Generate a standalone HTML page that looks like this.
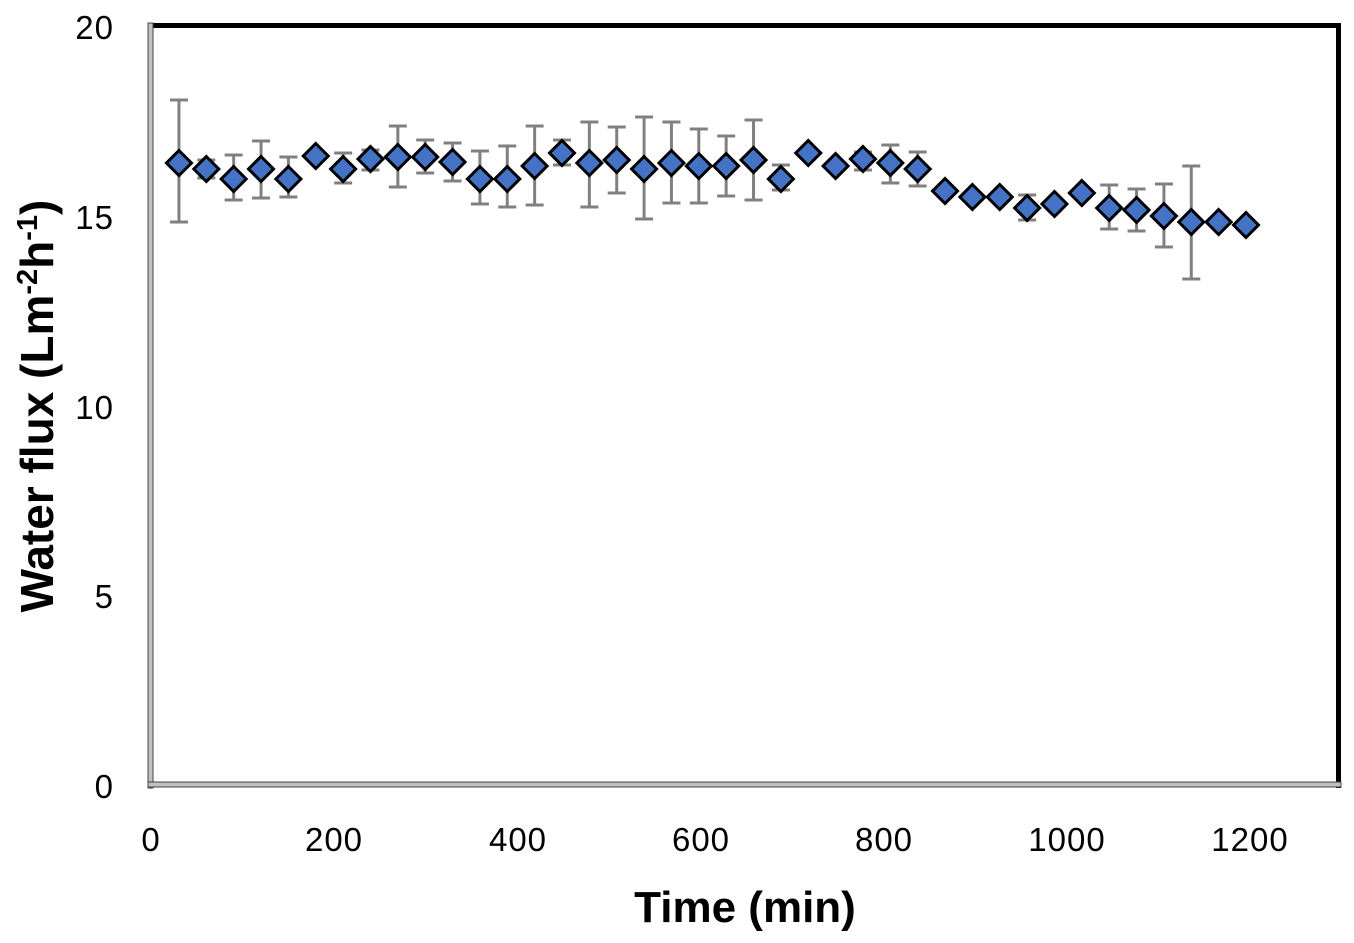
<!DOCTYPE html>
<html><head><meta charset="utf-8"><style>
html,body{margin:0;padding:0;background:#fff;}
svg{display:block;font-family:"Liberation Sans",sans-serif;}
</style></head><body>
<svg id="s" width="1354" height="943" viewBox="0 0 1354 943" xmlns="http://www.w3.org/2000/svg">
<rect x="0" y="0" width="1354" height="943" fill="#fff"/>
<rect x="150.5" y="25.5" width="1188" height="759" fill="none" stroke="#000" stroke-width="1"/>
<rect x="148" y="23" width="1193" height="5" fill="#000"/>
<rect x="1336" y="23" width="5" height="765" fill="#000"/>
<rect x="148" y="23" width="5" height="765" fill="#c0c0c0" stroke="#444" stroke-width="1"/>
<rect x="148" y="782" width="1193" height="5" fill="#c0c0c0" stroke="#444" stroke-width="1"/>
<g font-size="33" fill="#000" text-anchor="end" letter-spacing="1">
<text x="114" y="39">20</text>
<text x="114" y="229">15</text>
<text x="114" y="419">10</text>
<text x="114" y="608">5</text>
<text x="114" y="798">0</text>
</g>
<g font-size="33" fill="#000" text-anchor="middle" letter-spacing="1">
<text x="151" y="851">0</text>
<text x="334" y="851">200</text>
<text x="518" y="851">400</text>
<text x="701" y="851">600</text>
<text x="884" y="851">800</text>
<text x="1067" y="851">1000</text>
<text x="1250" y="851">1200</text>
</g>
<text x="745" y="922" font-size="44" font-weight="bold" text-anchor="middle">Time (min)</text>
<text transform="translate(53,406) rotate(-90)" font-size="46" font-weight="bold" text-anchor="middle">Water flux (Lm<tspan dy="-16" font-size="29">-2</tspan><tspan dy="16">h</tspan><tspan dy="-16" font-size="29">-1</tspan><tspan dy="16">)</tspan></text>
<g id="pts"></g>
</svg>
<script>
var d=[[163,100,222],[169,160,178],[179,155,200],[169,141,198],[179,157,197],[156,0,0],[169,153,183],[159,150,170],[157,126,187],[157,140,173],[162,143,181],[179,151,204],[179,146,207],[166,126,205],[153,140,165],[163,122,207],[160,127,193],[169,117,219],[163,122,203],[166,129,203],[166,136,196],[160,120,200],[179,165,190],[153,0,0],[166,0,0],[159,152,170],[163,145,183],[169,152,186],[191,0,0],[197,0,0],[197,0,0],[208,195,220],[204,0,0],[193,0,0],[208,185,229],[210,189,231],[216,184,247],[222,166,279],[222,0,0],[225,0,0]];
var g=document.getElementById('pts'),h='';
d.forEach(function(p,i){var x=151.6+0.912*30*(i+1);
if(p[1]){h+='<path d="M'+x+' '+p[1]+'V'+p[2]+'M'+(x-9)+' '+p[1]+'H'+(x+9)+'M'+(x-9)+' '+p[2]+'H'+(x+9)+'" stroke="#808080" stroke-width="3" fill="none"/>';}
});
d.forEach(function(p,i){var x=151.6+0.912*30*(i+1),y=p[0],r=12.5;
h+='<path d="M'+x+' '+(y-r)+'L'+(x+r)+' '+y+'L'+x+' '+(y+r)+'L'+(x-r)+' '+y+'Z" fill="#4472C4" stroke="#000" stroke-width="3"/>';});
g.innerHTML=h;
</script>
</body></html>
